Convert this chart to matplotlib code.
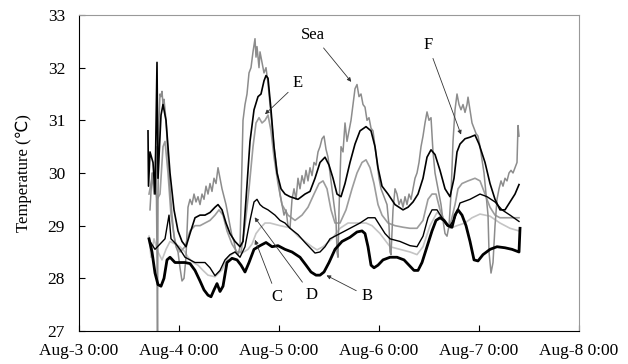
import matplotlib
matplotlib.use('Agg')
import matplotlib.pyplot as plt

plt.rcParams['font.family'] = ['Liberation Serif', 'DejaVu Sans']

# time in days from Aug-3 0:00, temperature in degC
t_sea = [0.71, 0.73, 0.75, 0.77, 0.78, 0.785, 0.79, 0.80, 0.81, 0.82, 0.83, 0.84, 0.85, 0.87, 0.89,
         0.91, 0.93, 0.95, 0.97, 0.99, 1.01, 1.03, 1.05, 1.07, 1.09, 1.11, 1.13, 1.15, 1.17, 1.19,
         1.21, 1.23, 1.25, 1.27, 1.29, 1.31, 1.33, 1.35, 1.37, 1.39, 1.41, 1.43, 1.45, 1.47, 1.49,
         1.51, 1.53, 1.55, 1.57, 1.59, 1.61, 1.63, 1.64, 1.66, 1.68, 1.70, 1.72, 1.74, 1.76, 1.77,
         1.78, 1.80, 1.81, 1.83, 1.85, 1.87, 1.89, 1.91, 1.93, 1.95, 1.97, 1.99, 2.01, 2.03, 2.05,
         2.07, 2.09, 2.11, 2.13, 2.15, 2.17, 2.19, 2.21, 2.23, 2.25, 2.27, 2.29, 2.31, 2.33, 2.35,
         2.37, 2.39, 2.41, 2.43, 2.45, 2.47, 2.49, 2.51, 2.53, 2.55, 2.57, 2.58, 2.59, 2.60, 2.62,
         2.64, 2.66, 2.68, 2.70, 2.72, 2.74, 2.76, 2.78, 2.80, 2.82, 2.84, 2.86, 2.88, 2.90, 2.92,
         2.94, 2.96, 2.98, 3.00, 3.02, 3.04, 3.06, 3.08, 3.10, 3.11, 3.12, 3.14, 3.16, 3.18, 3.20,
         3.22, 3.24, 3.26, 3.28, 3.30, 3.32, 3.34, 3.36, 3.38, 3.40, 3.42, 3.44, 3.46, 3.48, 3.50,
         3.52, 3.54, 3.56, 3.58, 3.60, 3.62, 3.64, 3.66, 3.68, 3.70, 3.72, 3.74, 3.76, 3.78, 3.80,
         3.82, 3.84, 3.86, 3.88, 3.89, 3.91, 3.93, 3.95, 3.97, 3.99, 4.01, 4.03, 4.05, 4.07, 4.09,
         4.10, 4.12, 4.14, 4.16, 4.18, 4.20, 4.22, 4.24, 4.26, 4.28, 4.30, 4.32, 4.34, 4.36, 4.38,
         4.39, 4.40]
sea = [29.3, 30.0, 29.6, 30.5, 28.4, 26.9, 29.5, 31.0, 31.5, 31.45, 31.55, 31.3, 31.4, 31.0, 30.3,
       29.7, 29.2, 28.8, 28.6, 28.5, 28.2, 27.95, 28.0, 28.4, 29.35, 29.5, 29.4, 29.6, 29.45, 29.55,
       29.4, 29.6, 29.5, 29.75, 29.6, 29.8, 29.65, 29.9, 29.8, 30.1, 29.9, 29.7, 29.55, 29.4, 29.2,
       29.0, 28.8, 28.7, 28.5, 28.45, 28.6, 30.2, 31.0, 31.3, 31.5, 31.9, 32.0, 32.3, 32.55, 32.2,
       32.4, 32.0, 32.3, 32.1, 31.9, 32.0, 31.7, 31.3, 30.9, 30.5, 30.2, 29.9, 29.6, 29.4, 29.2,
       29.3, 29.0, 28.95, 29.5, 29.7, 29.5, 29.9, 29.7, 29.95, 29.8, 30.05, 29.85, 30.1, 29.95, 30.2,
       30.15, 30.4, 30.5, 30.65, 30.7, 30.45, 30.3, 30.0, 29.7, 29.4, 29.1, 28.5, 28.4, 29.3, 30.5,
       30.4, 30.95, 30.6, 30.8, 31.0, 31.3, 31.6, 31.68, 31.45, 31.5, 31.3, 31.25, 31.0, 31.05, 30.85,
       30.8, 30.5, 30.2, 29.9, 29.7, 29.6, 29.5, 29.4, 29.0, 28.5, 28.45, 29.3, 29.7, 29.6, 29.4,
       29.5, 29.35, 29.55, 29.4, 29.6, 29.5, 29.7, 29.9, 30.0, 30.2, 30.5, 30.7, 30.95, 31.16, 31.0,
       31.05, 30.4, 30.0, 29.8, 29.6, 29.4, 29.1, 28.85, 28.8, 29.0, 29.6, 30.6, 31.2, 31.5, 31.3,
       31.2, 31.3, 31.15, 31.3, 31.44, 31.2, 30.95, 30.85, 30.75, 30.7, 30.5, 30.25, 30.0, 29.6, 29.2,
       28.5, 28.1, 28.3, 29.0, 29.5, 29.7, 29.85, 29.75, 29.9, 29.85, 30.0, 30.05, 30.0, 30.1, 30.2,
       30.9, 30.7]

t_f = [0.69, 0.695, 0.71, 0.74, 0.76, 0.78, 0.79, 0.82, 0.84, 0.87, 0.91, 0.95, 0.99, 1.03, 1.07,
       1.11, 1.16, 1.21, 1.26, 1.31, 1.36, 1.39, 1.43, 1.47, 1.51, 1.56, 1.61, 1.64, 1.67, 1.71,
       1.75, 1.79, 1.82, 1.85, 1.87, 1.89, 1.92, 1.95, 1.98, 2.02, 2.06, 2.11, 2.19, 2.26, 2.31,
       2.36, 2.41, 2.46, 2.50, 2.54, 2.58, 2.62, 2.66, 2.71, 2.76, 2.81, 2.87, 2.92, 2.96, 2.99,
       3.03, 3.09, 3.16, 3.24, 3.29, 3.34, 3.39, 3.44, 3.48, 3.52, 3.56, 3.61, 3.66, 3.71, 3.75,
       3.78, 3.81, 3.86, 3.91, 3.96, 4.00, 4.06, 4.11, 4.16, 4.21, 4.26, 4.31, 4.36, 4.40]
f = [30.8, 29.75, 30.4, 30.2, 29.6, 32.1, 29.9, 31.1, 31.3, 31.0, 30.0, 29.3, 28.9, 28.7, 28.6,
     28.85, 29.15, 29.2, 29.2, 29.25, 29.35, 29.4, 29.3, 29.05, 28.85, 28.7, 28.6, 28.7, 29.5, 30.6,
     31.2, 31.45, 31.5, 31.75, 31.85, 31.8, 31.2, 30.5, 30.0, 29.7, 29.6, 29.55, 29.5, 29.6, 29.65,
     29.9, 30.2, 30.3, 30.15, 29.9, 29.6, 29.55, 29.8, 30.2, 30.55, 30.8, 30.88, 30.8, 30.5, 30.1,
     29.75, 29.6, 29.4, 29.3, 29.35, 29.45, 29.6, 29.9, 30.3, 30.44, 30.35, 30.05, 29.7, 29.55, 29.9,
     30.4, 30.55, 30.65, 30.68, 30.72, 30.55, 30.2, 29.8, 29.5, 29.3, 29.3, 29.45, 29.6, 29.78]

t_e = [0.70, 0.74, 0.78, 0.81, 0.84, 0.86, 0.89, 0.92, 0.96, 1.01, 1.06, 1.11, 1.16, 1.21, 1.26,
       1.31, 1.36, 1.40, 1.44, 1.48, 1.53, 1.58, 1.62, 1.66, 1.70, 1.74, 1.77, 1.80, 1.83, 1.86,
       1.89, 1.92, 1.95, 1.99, 2.03, 2.09, 2.16, 2.23, 2.29, 2.35, 2.40, 2.44, 2.48, 2.52, 2.56,
       2.61, 2.67, 2.73, 2.78, 2.83, 2.87, 2.91, 2.95, 2.99, 3.03, 3.09, 3.16, 3.24, 3.31, 3.38,
       3.44, 3.49, 3.53, 3.57, 3.61, 3.66, 3.71, 3.76, 3.79, 3.83, 3.89, 3.96, 4.01, 4.06, 4.11,
       4.16, 4.21, 4.31, 4.40]
e = [29.6, 30.0, 29.5, 29.6, 30.5, 30.6, 30.0, 29.2, 28.7, 28.5, 28.6, 28.9, 29.0, 29.0, 29.05,
     29.1, 29.2, 29.3, 29.2, 28.9, 28.65, 28.5, 28.5, 29.0, 29.7, 30.5, 30.95, 31.05, 30.95, 31.0,
     31.1, 30.8, 30.3, 29.8, 29.4, 29.2, 29.1, 29.2, 29.35, 29.6, 29.8, 29.85, 29.7, 29.3, 29.05,
     29.05, 29.3, 29.7, 30.0, 30.2, 30.25, 30.1, 29.8, 29.4, 29.2, 29.05, 29.0, 28.97, 28.95, 28.95,
     29.1, 29.5, 29.6, 29.6, 29.3, 29.05, 29.0, 29.4, 29.7, 29.8, 29.85, 29.9, 29.85, 29.6, 29.35,
     29.2, 29.15, 29.15, 29.15]

t_d = [0.71, 0.76, 0.81, 0.86, 0.90, 0.92, 0.97, 1.01, 1.06, 1.11, 1.16, 1.21, 1.26, 1.31, 1.36,
       1.41, 1.46, 1.51, 1.56, 1.61, 1.66, 1.71, 1.75, 1.78, 1.81, 1.84, 1.89, 1.96, 2.01, 2.06,
       2.11, 2.19, 2.26, 2.31, 2.36, 2.41, 2.46, 2.51, 2.61, 2.71, 2.81, 2.89, 2.96, 3.01, 3.06,
       3.11, 3.21, 3.31, 3.38, 3.44, 3.49, 3.53, 3.58, 3.63, 3.68, 3.71, 3.76, 3.81, 3.91, 4.01,
       4.08, 4.16, 4.23, 4.31, 4.40]
d = [28.7, 28.55, 28.65, 28.75, 29.2, 28.75, 28.65, 28.55, 28.4, 28.35, 28.3, 28.3, 28.3, 28.2, 28.05,
     28.15, 28.35, 28.45, 28.5, 28.4, 28.6, 29.1, 29.45, 29.5, 29.4, 29.35, 29.3, 29.2, 29.1, 29.05,
     28.95, 28.83, 28.68, 28.58, 28.48, 28.5, 28.6, 28.75, 28.85, 28.95, 29.05, 29.15, 29.15, 29.0, 28.85,
     28.75, 28.7, 28.62, 28.6, 28.8, 29.15, 29.3, 29.3, 29.15, 29.0, 29.0, 29.15, 29.43, 29.5, 29.6,
     29.55, 29.45, 29.3, 29.2, 29.08]

t_c = [0.70, 0.72, 0.75, 0.79, 0.83, 0.87, 0.91, 0.96, 1.01, 1.06, 1.09, 1.14, 1.19, 1.24, 1.29,
       1.36, 1.43, 1.49, 1.56, 1.63, 1.69, 1.73, 1.77, 1.81, 1.86, 1.91, 2.01, 2.11, 2.19, 2.26,
       2.33, 2.38, 2.44, 2.53, 2.61, 2.69, 2.79, 2.87, 2.93, 3.01, 3.11, 3.21, 3.31, 3.38, 3.44,
       3.51, 3.58, 3.64, 3.71, 3.78, 3.86, 3.93, 4.01, 4.11, 4.21, 4.31, 4.40]
c = [28.8, 28.4, 28.75, 28.5, 28.35, 28.55, 28.7, 28.65, 28.6, 28.5, 28.4, 28.3, 28.25, 28.15, 28.06,
     28.03, 28.16, 28.4, 28.5, 28.48, 28.55, 28.65, 28.85, 28.95, 29.05, 29.05, 29.0, 28.96, 28.8, 28.7,
     28.6, 28.54, 28.6, 28.75, 28.95, 29.05, 29.05, 29.05, 29.0, 28.85, 28.6, 28.55, 28.5, 28.45, 28.6,
     29.0, 29.25, 29.15, 28.95, 29.0, 29.05, 29.15, 29.22, 29.18, 29.05, 28.95, 28.9]

t_b = [0.70, 0.73, 0.76, 0.79, 0.82, 0.85, 0.88, 0.91, 0.96, 1.01, 1.06, 1.11, 1.16, 1.21, 1.25,
       1.29, 1.32, 1.35, 1.38, 1.41, 1.44, 1.48, 1.53, 1.58, 1.62, 1.66, 1.70, 1.75, 1.81, 1.87,
       1.93, 1.99, 2.06, 2.13, 2.21, 2.27, 2.32, 2.37, 2.41, 2.45, 2.50, 2.56, 2.63, 2.71, 2.78,
       2.83, 2.86, 2.89, 2.92, 2.95, 2.99, 3.04, 3.11, 3.18, 3.25, 3.30, 3.35, 3.39, 3.43, 3.48,
       3.53, 3.57, 3.61, 3.65, 3.69, 3.73, 3.76, 3.79, 3.83, 3.87, 3.91, 3.95, 3.99, 4.04, 4.11,
       4.18, 4.26, 4.33, 4.40, 4.41]
b = [28.75, 28.5, 28.1, 27.88, 27.85, 28.0, 28.35, 28.4, 28.3, 28.3, 28.3, 28.28, 28.15, 27.95, 27.78,
     27.68, 27.65, 27.78, 27.9, 27.75, 27.85, 28.3, 28.38, 28.35, 28.25, 28.12, 28.3, 28.55, 28.62, 28.68,
     28.6, 28.62, 28.55, 28.5, 28.4, 28.25, 28.12, 28.06, 28.06, 28.12, 28.3, 28.55, 28.7, 28.78, 28.88,
     28.9, 28.85, 28.6, 28.25, 28.2, 28.25, 28.35, 28.4, 28.4, 28.35, 28.25, 28.15, 28.15, 28.3, 28.6,
     28.9, 29.1, 29.15, 29.1, 29.0, 28.97, 29.2, 29.3, 29.2, 29.0, 28.7, 28.35, 28.33, 28.45, 28.55,
     28.6, 28.58, 28.55, 28.5, 28.95]

x_labels = ['Aug-3 0:00', 'Aug-4 0:00', 'Aug-5 0:00', 'Aug-6 0:00', 'Aug-7 0:00', 'Aug-8 0:00']

fig = plt.figure(figsize=(6.28, 3.64), dpi=100)
ax = fig.add_axes([0.1258, 0.0907, 0.7962, 0.8681])

ax.plot(t_c, c, color='#c4c4c4', lw=1.2)
ax.plot(t_e, e, color='#9c9c9c', lw=1.2)
ax.plot(t_sea, sea, color='#8c8c8c', lw=1.1)
ax.plot(t_d, d, color='black', lw=1.0)
ax.plot(t_f, f, color='black', lw=1.2)
ax.plot(t_b, b, color='black', lw=2.0)

ax.set_xlim(0, 5)
ax.set_ylim(27, 33)
ax.set_xticks(range(6))
ax.set_xticklabels(x_labels)
ax.set_yticks(range(27, 34))
ax.tick_params(direction='in', length=4, width=0.8, labelsize=12.5)
ax.tick_params(axis='x', pad=9)
ax.tick_params(axis='y', pad=10)
ax.set_ylabel('Temperature (\u2103)', fontsize=12, labelpad=11)

for s in ['top', 'right']:
    ax.spines[s].set_color('#999999')
for s in ['left', 'bottom']:
    ax.spines[s].set_color('black')

arrow = dict(arrowstyle='-|>', color='#333333', lw=0.6, mutation_scale=6)
ax.annotate('Sea', xy=(2.74, 31.69), xytext=(2.34, 32.62), ha='center', va='center',
            fontsize=12, arrowprops=arrow)
ax.annotate('E', xy=(1.84, 31.08), xytext=(2.19, 31.71), ha='center', va='center',
            fontsize=12, arrowprops=arrow)
ax.annotate('F', xy=(3.83, 30.68), xytext=(3.49, 32.43), ha='center', va='center',
            fontsize=12, arrowprops=arrow)
ax.annotate('C', xy=(1.75, 28.78), xytext=(1.98, 27.65), ha='center', va='center',
            fontsize=12, arrowprops=arrow)
ax.annotate('D', xy=(1.74, 29.2), xytext=(2.33, 27.68), ha='center', va='center',
            fontsize=12, arrowprops=arrow)
ax.annotate('B', xy=(2.45, 28.08), xytext=(2.88, 27.66), ha='center', va='center',
            fontsize=12, arrowprops=arrow)

fig.savefig('out.png', dpi=100)
